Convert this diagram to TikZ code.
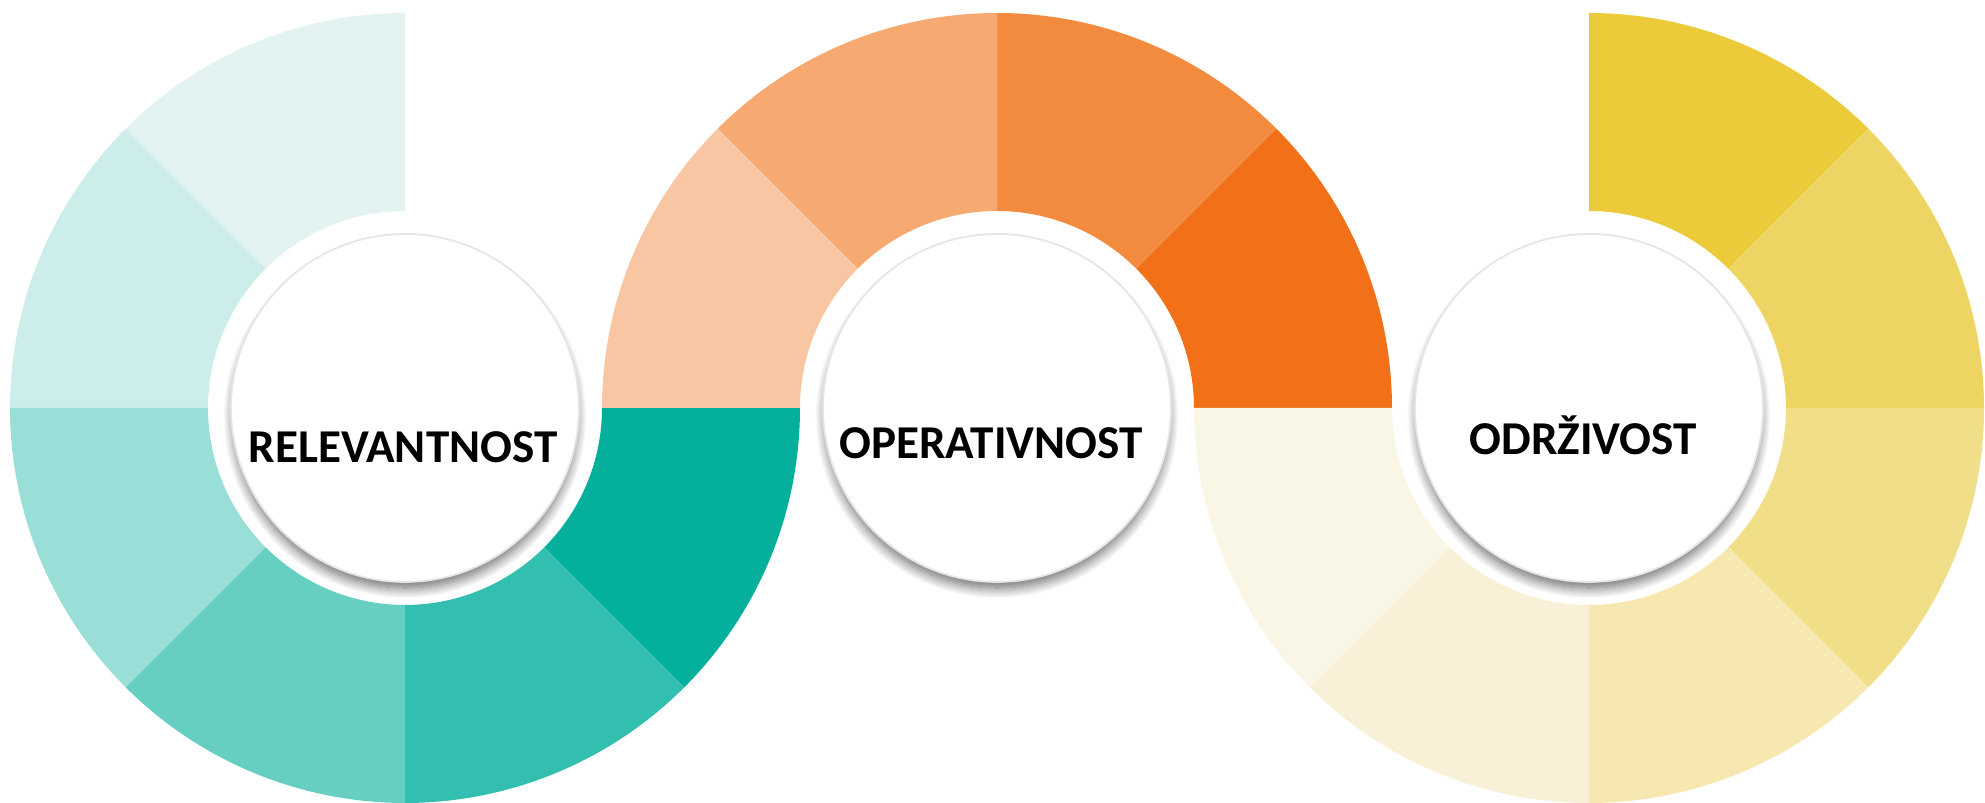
\documentclass[tikz,border=0pt]{standalone}
\usepackage{fontspec}
\setmainfont{Carlito}
\usetikzlibrary{shadows.blur}
\definecolor{tealA}{HTML}{E3F3F1}
\definecolor{tealB}{HTML}{CDEDEA}
\definecolor{tealC}{HTML}{9ADFD7}
\definecolor{tealD}{HTML}{67CFC2}
\definecolor{tealE}{HTML}{33BFB0}
\definecolor{tealF}{HTML}{04B09B}
\definecolor{orA}{HTML}{F27118}
\definecolor{orB}{HTML}{F38B3F}
\definecolor{orC}{HTML}{F6A970}
\definecolor{orD}{HTML}{F8C6A2}
\definecolor{yeA}{HTML}{EBCB3A}
\definecolor{yeB}{HTML}{EED462}
\definecolor{yeC}{HTML}{F0DE88}
\definecolor{yeD}{HTML}{F6E8B0}
\definecolor{yeE}{HTML}{F9F1D7}
\definecolor{yeF}{HTML}{FAF6E6}
\begin{document}
\begin{tikzpicture}
	[every node/.style={inner sep=0pt},
	disc/.style={circle,fill=white,draw=black!10,line width=0.5pt,minimum size=3.48cm,
		blur shadow={shadow xshift=0pt,shadow yshift=-2.5pt,shadow scale=0.985,
			shadow blur radius=3pt,shadow blur steps=16,shadow opacity=60}},
	word/.style={anchor=base,font=\fontsize{13.4}{16}\selectfont\bfseries}]
	\useasboundingbox (0,0) rectangle (19.85,8.03);
	\coordinate (L) at (4.05,3.95);
	\coordinate (M) at (9.97,3.95);
	\coordinate (R) at (15.89,3.95);
	% ring pieces
	\foreach \a/\b/\c in {90/135/tealA,135/180/tealB,180/225/tealC,225/270/tealD,270/315/tealE,315/360/tealF}
		\fill[\c,shift={(L)}] (\a:3.95) arc[start angle=\a,end angle=\b,radius=3.95]
			-- (\b:1.97) arc[start angle=\b,end angle=\a,radius=1.97] -- cycle;
	\foreach \a/\b/\c in {0/45/orA,45/90/orB,90/135/orC,135/180/orD}
		\fill[\c,shift={(M)}] (\a:3.95) arc[start angle=\a,end angle=\b,radius=3.95]
			-- (\b:1.97) arc[start angle=\b,end angle=\a,radius=1.97] -- cycle;
	\foreach \a/\b/\c in {45/90/yeA,0/45/yeB,-45/0/yeC,-90/-45/yeD,-135/-90/yeE,-180/-135/yeF}
		\fill[\c,shift={(R)}] (\a:3.95) arc[start angle=\a,end angle=\b,radius=3.95]
			-- (\b:1.97) arc[start angle=\b,end angle=\a,radius=1.97] -- cycle;
	% discs
	\node[disc] (rel) at (L) {};
	\node[disc] (ope) at (M) {};
	\node[disc] (odr) at (R) {};
	\node[word] (relw) at ([xshift=-0.02cm,yshift=-0.55cm]rel.center) {RELEVANTNOST};
	\node[word] (opew) at ([xshift=-0.06cm,yshift=-0.51cm]ope.center) {OPERATIVNOST};
	\node[word] (odrw) at ([xshift=-0.06cm,yshift=-0.47cm]odr.center) {ODRŽIVOST};
\end{tikzpicture}
\end{document}
